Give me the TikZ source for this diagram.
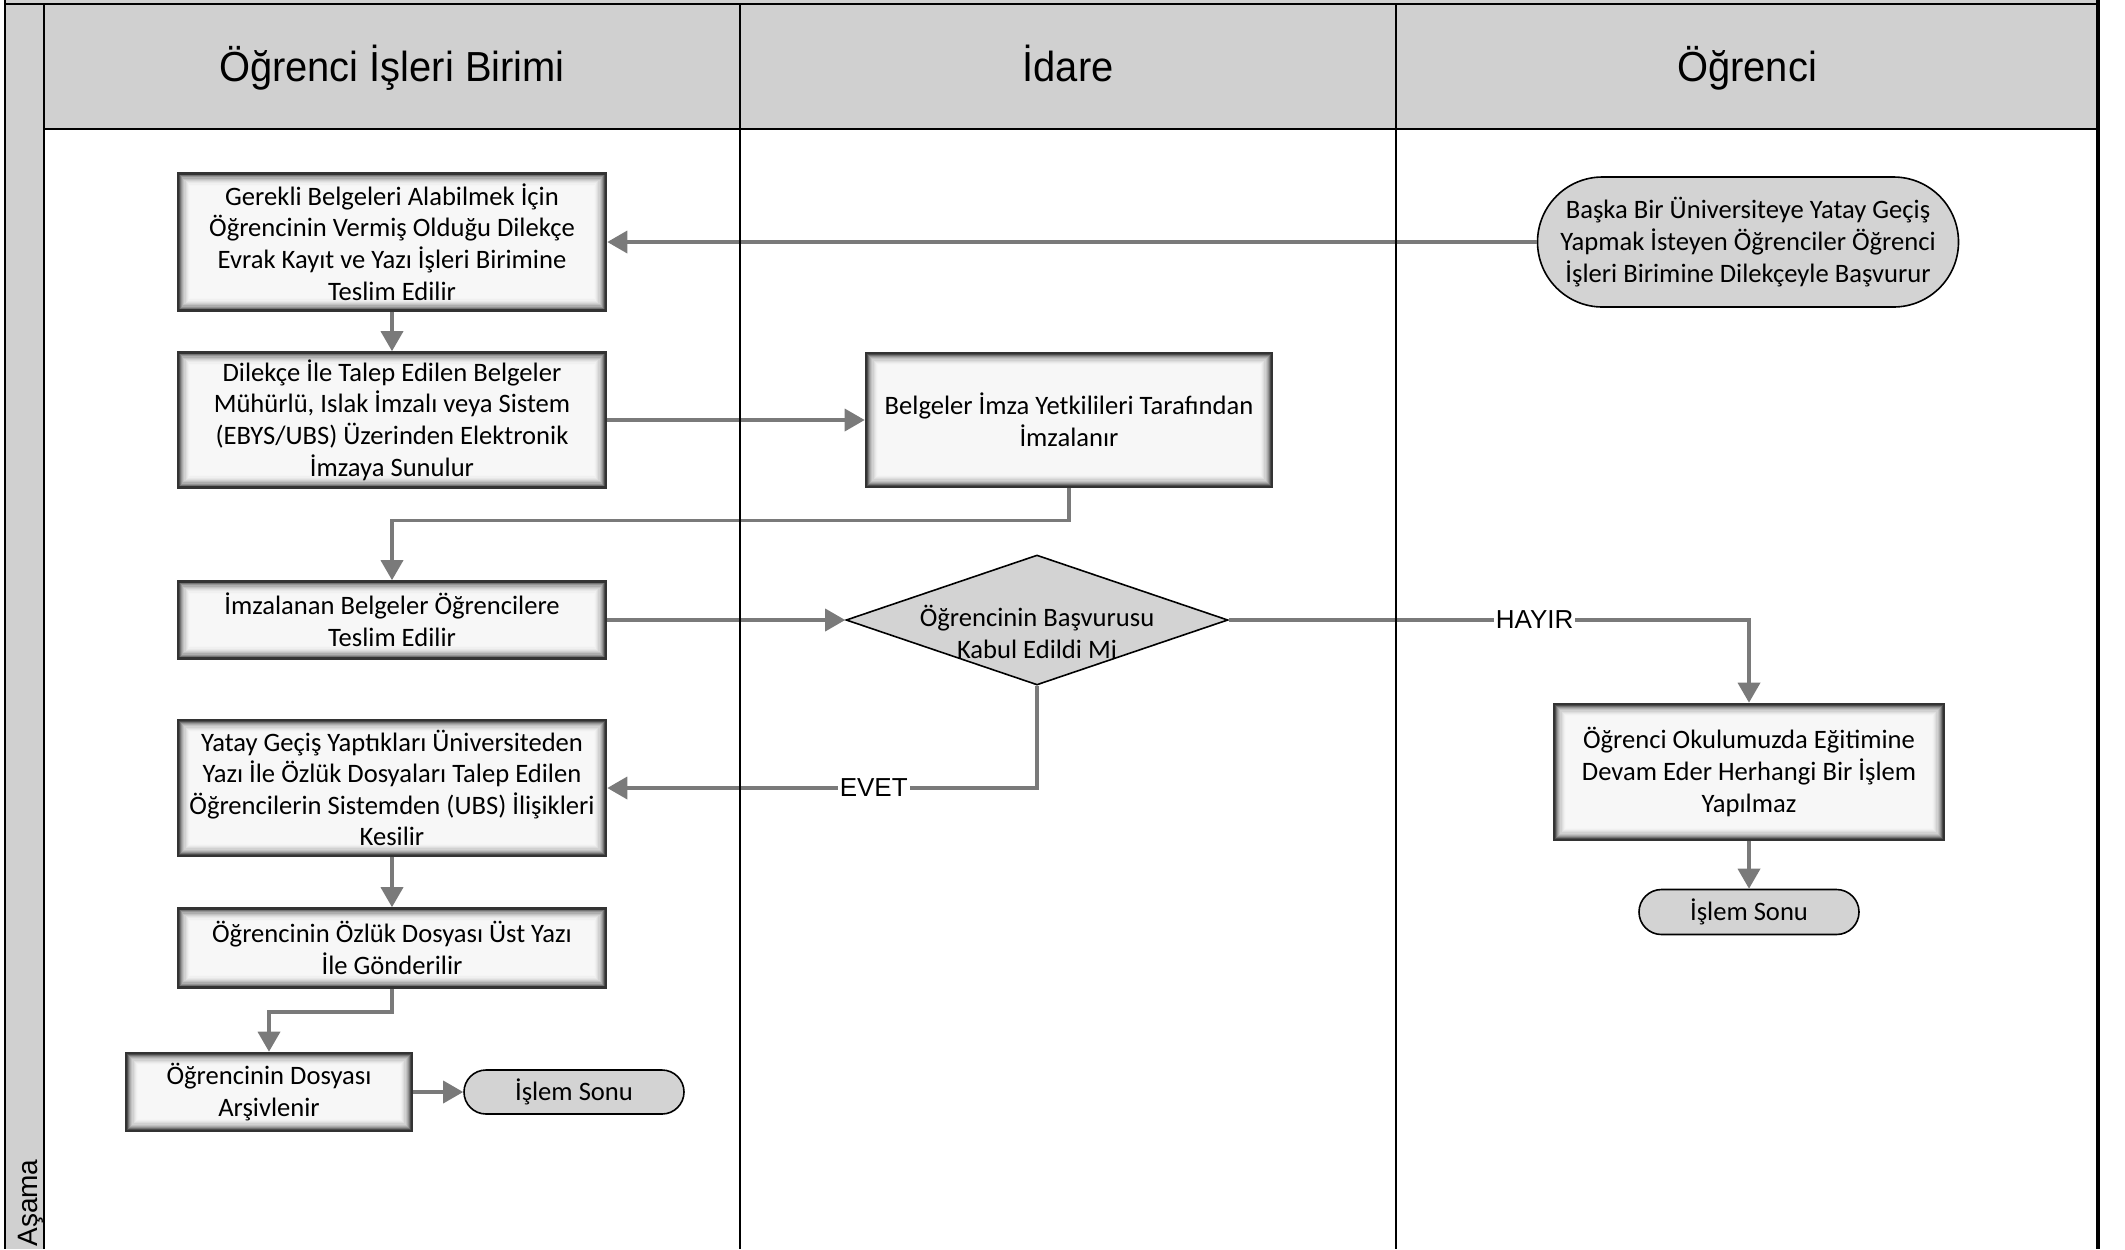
\documentclass[tikz,border=0pt]{standalone}
\usepackage{fontspec}
\setmainfont{Carlito}
\newfontfamily\hdrfont[FakeStretch=0.95]{Liberation Sans}
\newfontfamily\arialfont{Liberation Sans}
\usetikzlibrary{shapes.geometric,arrows.meta,calc}
\definecolor{hdrgray}{HTML}{D0D0D0}
\definecolor{linegray}{HTML}{7A7A7A}
\definecolor{shapegray}{HTML}{D3D3D3}
\begin{document}
\begin{tikzpicture}[x=0.5pt,y=-0.5pt,
  proc/.style={rectangle, draw=black!80, line width=1.3pt, fill=black!3, align=center, inner sep=0pt,
    font=\fontsize{13.3}{15.8}\selectfont,
    path picture={
      \foreach \d/\p in {0.5/70,1.1/55,1.7/42,2.3/32,2.9/24,3.5/18,4.1/13,4.7/9,5.3/6,5.9/4}{
        \draw[line width=0.65pt, draw=black!\p]
          ([xshift=\d pt,yshift=-\d pt]path picture bounding box.north west) rectangle
          ([xshift=-\d pt,yshift=\d pt]path picture bounding box.south east);
      }}},
  term/.style={rectangle, draw=black, line width=0.8pt, fill=shapegray, align=center, inner sep=0pt,
    font=\fontsize{13.3}{15.8}\selectfont},
  decis/.style={diamond, draw=black, line width=0.8pt, fill=shapegray, inner sep=0pt},
  conn/.style={draw=linegray, line width=1.8pt, -{Triangle[length=10pt,width=11pt]}},
  lbl/.style={fill=white, inner sep=1pt, font=\arialfont\fontsize{13}{15}\selectfont},
  hdr/.style={font=\hdrfont\fontsize{21}{25}\selectfont, anchor=base, inner sep=0pt},
  lane/.style={draw=black, line width=1pt}]
\useasboundingbox (0,0) rectangle (2125,1249);
% backgrounds
\fill[hdrgray] (5,0) rectangle (2098,129);
\fill[hdrgray] (5,0) rectangle (44,1249);
% headers
\node[hdr] (h1) at (392,81) {Öğrenci İşleri Birimi};
\node[hdr] (h2) at (1068,81) {İdare};
\node[hdr] (h3) at (1747,81) {Öğrenci};
\node[font=\arialfont\fontsize{14}{16}\selectfont, rotate=90, anchor=base west, inner sep=0pt] (asama) at (37,1247) {Aşama};
% process nodes
\node[proc, minimum width=214pt, minimum height=68.5pt] (b1) at (392,242)
  {Gerekli Belgeleri Alabilmek İçin\\Öğrencinin Vermiş Olduğu Dilekçe\\Evrak Kayıt ve Yazı İşleri Birimine\\Teslim Edilir};
\node[proc, minimum width=214pt, minimum height=67.5pt] (b2) at (392,420)
  {Dilekçe İle Talep Edilen Belgeler\\Mühürlü, Islak İmzalı veya Sistem\\(EBYS/UBS) Üzerinden Elektronik\\İmzaya Sunulur};
\node[proc, minimum width=203pt, minimum height=67pt] (b3) at (1069,420)
  {Belgeler İmza Yetkilileri Tarafından\\İmzalanır};
\node[proc, minimum width=214pt, minimum height=38.5pt] (b4) at (392,620)
  {İmzalanan Belgeler Öğrencilere\\Teslim Edilir};
\node[decis, minimum width=191pt, minimum height=65pt] (dia) at (1037,620) {};
\node[align=center, font=\fontsize{13.3}{15.8}\selectfont, inner sep=0pt] (diat) at (1037,632)
  {Öğrencinin Başvurusu\\Kabul Edildi Mi};
\node[proc, minimum width=214pt, minimum height=68pt] (b5) at (392,788)
  {Yatay Geçiş Yaptıkları Üniversiteden\\Yazı İle Özlük Dosyaları Talep Edilen\\Öğrencilerin Sistemden (UBS) İlişikleri\\Kesilir};
\node[proc, minimum width=214pt, minimum height=39.5pt] (b6) at (392,948)
  {Öğrencinin Özlük Dosyası Üst Yazı\\İle Gönderilir};
\node[proc, minimum width=143pt, minimum height=39pt] (b7) at (269,1092)
  {Öğrencinin Dosyası\\Arşivlenir};
\node[term, minimum width=110pt, minimum height=22pt, rounded corners=11pt] (t1) at (574,1092) {İşlem Sonu};
\node[term, minimum width=210.5pt, minimum height=65pt, rounded corners=32.5pt] (st) at (1748,242)
  {Başka Bir Üniversiteye Yatay Geçiş\\Yapmak İsteyen Öğrenciler Öğrenci\\İşleri Birimine Dilekçeyle Başvurur};
\node[proc, minimum width=195pt, minimum height=68pt] (b8) at (1749,772)
  {Öğrenci Okulumuzda Eğitimine\\Devam Eder Herhangi Bir İşlem\\Yapılmaz};
\node[term, minimum width=110pt, minimum height=22.5pt, rounded corners=11.25pt] (t2) at (1749,912) {İşlem Sonu};
% connectors
\draw[conn] (st.west) -- (b1.east);
\draw[conn] (b1.south) -- (b2.north);
\draw[conn] (b2.east) -- (b3.west);
\draw[conn] (b3.south) -- ++(0,32) -| (b4.north);
\draw[conn] (b4.east) -- (dia.west);
\draw[conn] (dia.east) -| node[lbl, pos=0.294] (hayir) {HAYIR} (b8.north);
\draw[conn] (dia.south) |- node[lbl, pos=0.69] (evet) {EVET} (b5.east);
\draw[conn] (b5.south) -- (b6.north);
\draw[conn] (b6.south) -- ++(0,23) -| (b7.north);
\draw[conn] (b7.east) -- (t1.west);
\draw[conn] (b8.south) -- (t2.north);
% lane lines
\draw[lane] (5,4) -- (2098,4);
\draw[lane] (44,129) -- (2098,129);
\draw[lane] (5,0) -- (5,1249);
\draw[lane] (44,4) -- (44,1249);
\draw[lane] (740,4) -- (740,1249);
\draw[lane] (1396,4) -- (1396,1249);
\draw[draw=black, line width=1.6pt] (2098,0) -- (2098,1249);
\end{tikzpicture}
\end{document}
